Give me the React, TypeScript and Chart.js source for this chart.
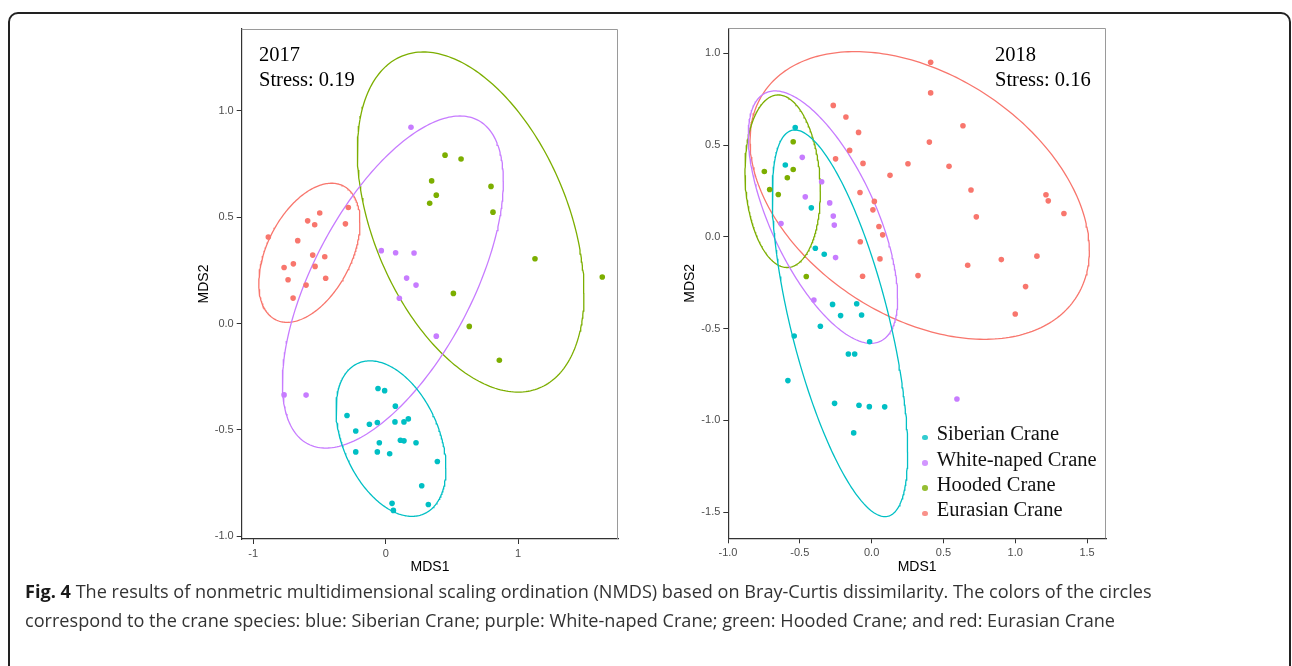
import React, { useEffect, useRef } from "react";
import { Chart, registerables } from "chart.js";

Chart.register(...registerables);

// ---------- Categories & colours ----------
const SPECIES = ["Siberian Crane", "White-naped Crane", "Hooded Crane", "Eurasian Crane"];
const COLORS = ["#00BFC4", "#C77CFF", "#7CAE00", "#F8766D"];

// ---------- 2017 NMDS scores ----------
const sib2017X = [-0.058, -0.008, 0.073, -0.292, -0.123, -0.063, 0.070, 0.138, 0.171, -0.226, -0.048, 0.111, 0.138, 0.229, -0.226, -0.063, 0.030, 0.390, 0.272, 0.048, 0.058, 0.322];
const sib2017Y = [-0.305, -0.315, -0.388, -0.432, -0.473, -0.465, -0.462, -0.462, -0.448, -0.505, -0.560, -0.548, -0.551, -0.560, -0.603, -0.603, -0.612, -0.648, -0.762, -0.845, -0.878, -0.850];
const wnc2017X = [0.191, -0.033, 0.075, 0.214, 0.158, 0.229, 0.103, 0.382, -0.767, -0.601];
const wnc2017Y = [0.923, 0.343, 0.333, 0.332, 0.214, 0.181, 0.119, -0.059, -0.335, -0.336];
const hood2017X = [0.448, 0.569, 0.347, 0.382, 0.332, 0.795, 0.810, 1.127, 1.635, 0.511, 0.631, 0.858];
const hood2017Y = [0.792, 0.774, 0.671, 0.604, 0.566, 0.645, 0.524, 0.305, 0.219, 0.142, -0.013, -0.172];
const eur2017X = [-0.886, -0.498, -0.589, -0.536, -0.282, -0.304, -0.664, -0.551, -0.460, -0.767, -0.697, -0.533, -0.737, -0.453, -0.601, -0.699];
const eur2017Y = [0.407, 0.520, 0.483, 0.465, 0.546, 0.469, 0.390, 0.322, 0.314, 0.264, 0.281, 0.269, 0.206, 0.213, 0.181, 0.120];

// ---------- 2018 NMDS scores ----------
const sib2018X = [-0.532, -0.601, -0.420, -0.392, -0.330, -0.272, -0.104, -0.216, -0.070, -0.357, -0.539, -0.014, -0.162, -0.118, -0.583, -0.258, -0.088, -0.016, 0.091, -0.125];
const sib2018Y = [0.595, 0.391, 0.158, -0.062, -0.095, -0.368, -0.364, -0.429, -0.426, -0.487, -0.540, -0.571, -0.638, -0.638, -0.783, -0.907, -0.917, -0.925, -0.926, -1.068];
const wnc2018X = [-0.483, -0.348, -0.462, -0.292, -0.267, -0.260, -0.631, -0.251, -0.402, 0.594];
const wnc2018Y = [0.433, 0.300, 0.218, 0.185, 0.113, 0.064, 0.073, -0.113, -0.344, -0.883];
const hood2018X = [-0.546, -0.747, -0.546, -0.587, -0.710, -0.650, -0.455];
const hood2018Y = [0.518, 0.356, 0.367, 0.322, 0.258, 0.231, -0.216];
const eur2018X = [0.411, 0.411, -0.267, -0.179, -0.091, 0.636, 0.402, -0.153, -0.251, -0.060, 0.253, 0.539, 0.128, 0.692, -0.081, 1.214, 1.230, 0.019, 0.009, 1.339, 0.729, 0.051, 0.077, -0.079, 0.058, 0.903, 1.151, 0.669, -0.063, 0.323, 1.072, 1.000];
const eur2018Y = [0.951, 0.784, 0.716, 0.653, 0.569, 0.605, 0.516, 0.471, 0.425, 0.400, 0.398, 0.384, 0.335, 0.255, 0.242, 0.229, 0.196, 0.193, 0.147, 0.127, 0.109, 0.056, 0.011, -0.027, -0.120, -0.124, -0.105, -0.155, -0.215, -0.211, -0.271, -0.420];

// ---------- Confidence ellipses: [xMin, xMax, yMin, yMax, x at top] ----------
const ellSib2017 = [-0.375, 0.455, -0.906, -0.175, -0.118];
const ellWnc2017 = [-0.780, 0.888, -0.585, 0.976, 0.561];
const ellHood2017 = [-0.214, 1.497, -0.322, 1.277, 0.284];
const ellEur2017 = [-0.958, -0.194, 0.006, 0.660, -0.408];
const ellSib2018 = [-0.692, 0.251, -1.524, 0.582, -0.534];
const ellWnc2018 = [-0.859, 0.181, -0.580, 0.795, -0.673];
const ellHood2018 = [-0.882, -0.357, -0.167, 0.773, -0.650];
const ellEur2018 = [-0.847, 1.516, -0.558, 1.009, -0.116];

// ---------- Axis ranges & ticks ----------
const xRange2017 = [-1.087, 1.756];
const yRange2017 = [-1.0125, 1.385];
const xTicks2017 = [-1, 0, 1];
const yTicks2017 = [-1, -0.5, 0, 0.5, 1];
const xRange2018 = [-0.998, 1.632];
const yRange2018 = [-1.642, 1.136];
const xTicks2018 = [-1, -0.5, 0, 0.5, 1, 1.5];
const yTicks2018 = [-1.5, -1, -0.5, 0, 0.5, 1];

const SANS = "'Liberation Sans', Arial, Helvetica, sans-serif";
const SERIF = "'Liberation Serif', 'Times New Roman', Times, serif";

function ellipsePoints(p: number[], n = 260) {
  const [xmin, xmax, ymin, ymax, xTop] = p;
  const cx = (xmin + xmax) / 2;
  const a = (xmax - xmin) / 2;
  const cy = (ymin + ymax) / 2;
  const b = (ymax - ymin) / 2;
  const phi = Math.acos(Math.max(-1, Math.min(1, (xTop - cx) / a)));
  const pts: { x: number; y: number }[] = [];
  for (let i = 0; i <= n; i++) {
    const t = (2 * Math.PI * i) / n;
    pts.push({ x: cx + a * Math.cos(t), y: cy + b * Math.cos(t - phi) });
  }
  return pts;
}

const panelBorder = {
  id: "panelBorder",
  afterDatasetsDraw(chart: any) {
    const { ctx, chartArea } = chart;
    const { left, right, top, bottom } = chartArea;
    ctx.save();
    ctx.strokeStyle = "#9a9a9a";
    ctx.lineWidth = 1;
    ctx.beginPath();
    ctx.moveTo(left, Math.round(top) + 0.5);
    ctx.lineTo(Math.round(right) - 0.5, Math.round(top) + 0.5);
    ctx.lineTo(Math.round(right) - 0.5, bottom);
    ctx.stroke();
    ctx.restore();
  },
};

type Spec = {
  xs: number[][];
  ys: number[][];
  ells: number[][];
  xRange: number[];
  yRange: number[];
  xTicks: number[];
  yTicks: number[];
  xDigits: number;
  yDigits: number;
  yAxisWidth: number;
  xAxisHeight: number;
  padTop: number;
  padRight: number;
  yTitlePad: number;
  xTitlePad: number;
};

function buildConfig(s: Spec): any {
  const datasets: any[] = [];
  s.xs.forEach((xArr, i) => {
    datasets.push({
      label: SPECIES[i],
      data: xArr.map((x, j) => ({ x, y: s.ys[i][j] })),
      backgroundColor: COLORS[i],
      borderColor: COLORS[i],
      borderWidth: 0,
      pointRadius: 2.8,
      pointHoverRadius: 2.8,
      order: 0,
    });
  });
  s.ells.forEach((e, i) => {
    datasets.push({
      label: SPECIES[i] + " ellipse",
      data: ellipsePoints(e),
      showLine: true,
      borderColor: COLORS[i],
      backgroundColor: COLORS[i],
      borderWidth: 1.3,
      pointRadius: 0,
      pointHoverRadius: 0,
      fill: false,
      tension: 0,
      order: 1,
    });
  });
  const tickFont = { family: SANS, size: 11 };
  const titleFont = { family: SANS, size: 14 };
  return {
    type: "scatter",
    data: { datasets },
    options: {
      responsive: false,
      animation: false,
      devicePixelRatio: 1,
      events: [],
      layout: { padding: { top: s.padTop, right: s.padRight, left: 0, bottom: 0 } },
      plugins: {
        legend: { display: false },
        tooltip: { enabled: false },
        title: { display: false },
      },
      scales: {
        x: {
          type: "linear",
          min: s.xRange[0],
          max: s.xRange[1],
          afterBuildTicks: (scale: any) => {
            scale.ticks = s.xTicks.map((v) => ({ value: v }));
          },
          afterFit: (scale: any) => {
            scale.height = s.xAxisHeight;
          },
          ticks: {
            callback: (v: any) => Number(v).toFixed(s.xDigits),
            font: tickFont,
            color: "#4d4d4d",
            padding: 3,
            maxRotation: 0,
            autoSkip: false,
          },
          grid: { display: true, drawOnChartArea: false, drawTicks: true, tickLength: 5, color: "#333333", lineWidth: 1 },
          border: { display: true, color: "#333333", width: 1.2 },
          title: { display: true, text: "MDS1", font: titleFont, color: "#000000", padding: { top: 0, bottom: s.xTitlePad } },
        },
        y: {
          type: "linear",
          min: s.yRange[0],
          max: s.yRange[1],
          afterBuildTicks: (scale: any) => {
            scale.ticks = s.yTicks.map((v) => ({ value: v }));
          },
          afterFit: (scale: any) => {
            scale.width = s.yAxisWidth;
          },
          ticks: {
            callback: (v: any) => Number(v).toFixed(s.yDigits),
            font: tickFont,
            color: "#4d4d4d",
            padding: 3,
            autoSkip: false,
          },
          grid: { display: true, drawOnChartArea: false, drawTicks: true, tickLength: 5, color: "#333333", lineWidth: 1 },
          border: { display: true, color: "#333333", width: 1.2 },
          title: { display: true, text: "MDS2", font: titleFont, color: "#000000", padding: { top: s.yTitlePad, bottom: 0 } },
        },
      },
    },
    plugins: [panelBorder],
  };
}

function Panel(props: { left: number; top: number; width: number; height: number; spec: Spec }) {
  const ref = useRef<HTMLCanvasElement>(null);
  useEffect(() => {
    if (!ref.current) return;
    const chart = new Chart(ref.current, buildConfig(props.spec));
    return () => chart.destroy();
  }, []);
  return (
    <canvas
      ref={ref}
      width={props.width}
      height={props.height}
      style={{ position: "absolute", left: props.left, top: props.top, width: props.width, height: props.height }}
    />
  );
}

const spec2017: Spec = {
  xs: [sib2017X, wnc2017X, hood2017X, eur2017X],
  ys: [sib2017Y, wnc2017Y, hood2017Y, eur2017Y],
  ells: [ellSib2017, ellWnc2017, ellHood2017, ellEur2017],
  xRange: xRange2017,
  yRange: yRange2017,
  xTicks: xTicks2017,
  yTicks: yTicks2017,
  xDigits: 0,
  yDigits: 1,
  yAxisWidth: 61.7,
  xAxisHeight: 41,
  padTop: 29,
  padRight: 11.7,
  yTitlePad: 15.6,
  xTitlePad: 4.8,
};

const spec2018: Spec = {
  xs: [sib2018X, wnc2018X, hood2018X, eur2018X],
  ys: [sib2018Y, wnc2018Y, hood2018Y, eur2018Y],
  ells: [ellSib2018, ellWnc2018, ellHood2018, ellEur2018],
  xRange: xRange2018,
  yRange: yRange2018,
  xTicks: xTicks2018,
  yTicks: yTicks2018,
  xDigits: 1,
  yDigits: 1,
  yAxisWidth: 63.3,
  xAxisHeight: 41.7,
  padTop: 28.3,
  padRight: 14,
  yTitlePad: 16.9,
  xTitlePad: 4.8,
};

const CAPTION_BOLD = "Fig. 4";
const CAPTION_LINE1 = " The results of nonmetric multidimensional scaling ordination (NMDS) based on Bray-Curtis dissimilarity. The colors of the circles";
const CAPTION_LINE2 = "correspond to the crane species: blue: Siberian Crane; purple: White-naped Crane; green: Hooded Crane; and red: Eurasian Crane";

export default function App() {
  const capRef = useRef<HTMLDivElement>(null);
  const line1Ref = useRef<HTMLSpanElement>(null);

  useEffect(() => {
    const el = capRef.current;
    const l1 = line1Ref.current;
    if (!el || !l1) return;
    const w = l1.getBoundingClientRect().width;
    if (w > 0) {
      el.style.fontSize = (16 * 1127) / w + "px";
    }
  }, []);

  const annot: React.CSSProperties = {
    position: "absolute",
    fontFamily: SERIF,
    fontSize: 20.5,
    lineHeight: "25px",
    color: "#000",
    whiteSpace: "pre",
  };

  return (
    <div style={{ position: "absolute", left: 0, top: 0, width: 1292, height: 666, overflow: "hidden", background: "#fff" }}>
      <div
        style={{
          position: "absolute",
          left: 8,
          top: 12,
          width: 1283,
          height: 700,
          border: "2px solid #222",
          borderRadius: 10,
          boxSizing: "border-box",
        }}
      />
      <Panel left={180} top={0} width={450} height={580} spec={spec2017} />
      <Panel left={665} top={0} width={455} height={580} spec={spec2018} />

      <div style={{ ...annot, left: 259, top: 42.3 }}>{"2017\nStress: 0.19"}</div>
      <div style={{ ...annot, left: 995, top: 42.3 }}>{"2018\nStress: 0.16"}</div>

      <div style={{ position: "absolute", left: 919, top: 421.4 }}>
        {SPECIES.map((name, i) => (
          <div key={name} style={{ position: "relative", height: 25.3, lineHeight: "25.3px", fontFamily: SERIF, fontSize: 20.5, color: "#111", whiteSpace: "nowrap", paddingLeft: 17.7 }}>
            <span
              style={{
                position: "absolute",
                left: 3.2,
                top: 13.3,
                width: 5.6,
                height: 5.6,
                borderRadius: "50%",
                background: COLORS[i],
                opacity: 0.8,
              }}
            />
            {name}
          </div>
        ))}
      </div>

      <div
        ref={capRef}
        style={{
          position: "absolute",
          left: 25,
          top: 577,
          fontFamily: "'Open Sans', 'Noto Sans', sans-serif",
          fontSize: 16,
          lineHeight: "29px",
          color: "#333",
          whiteSpace: "nowrap",
        }}
      >
        <span ref={line1Ref} style={{ display: "inline-block" }}>
          <b style={{ color: "#1a1a1a", fontWeight: 700 }}>{CAPTION_BOLD}</b>
          {CAPTION_LINE1}
        </span>
        <br />
        <span>{CAPTION_LINE2}</span>
      </div>
    </div>
  );
}
